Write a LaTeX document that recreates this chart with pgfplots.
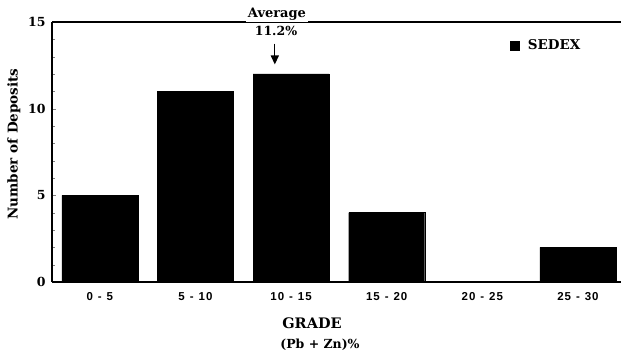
\documentclass[border=0pt]{standalone}
\usepackage{pgfplots}
\pgfplotsset{compat=1.18}
\usetikzlibrary{arrows.meta}
\usepackage{fontspec}
\setmainfont{DejaVu Serif}
\newfontfamily\tickfont[LetterSpace=8]{Liberation Sans}
\begin{document}
\begin{tikzpicture}
\useasboundingbox (-52pt,-73pt) rectangle (569pt,282pt);
\begin{axis}[
  scale only axis,
  width=569pt, height=260pt,
  at={(0,0)}, anchor=south west,
  xmin=-0.5, xmax=5.45,
  ymin=0, ymax=15,
  axis x line*=bottom,
  axis y line*=left,
  axis line style={line width=1.3pt, -},
  xtick={0,1,2,3,4,5},
  xticklabels={0\hspace{5pt}-\hspace{5pt}5, 5\hspace{5pt}-\hspace{5pt}10, 10\hspace{5pt}-\hspace{5pt}15, 15\hspace{5pt}-\hspace{5pt}20, 20\hspace{5pt}-\hspace{5pt}25, 25\hspace{5pt}-\hspace{5pt}30},
  x tick label style={font=\tickfont\bfseries\fontsize{11.5}{13}\selectfont, yshift=-3pt},
  major x tick style={draw=none},
  ytick={0,5,10,15},
  minor y tick num=4,
  tick align=inside,
  major tick length=4pt, minor tick length=3pt,
  y tick label style={font=\bfseries\fontsize{12.5}{14}\selectfont, xshift=-3pt},
  /pgf/number format/assume math mode=true,
  ybar, bar width=76pt,
  legend style={draw=none, fill=none, at={(rel axis cs:0.80,0.91)}, anchor=west, font=\bfseries\fontsize{13.5}{15}\selectfont, legend cell align=left},
  legend image code/.code={\fill[black] (0pt,-4.5pt) rectangle (9pt,4.5pt);},
  clip=false,
]
\addplot[fill=black, draw=black] coordinates {(0,5) (1,11) (2,12) (3,4) (4,0) (5,2)};
\addlegendentry{\hspace{6pt}SEDEX}
\draw[line width=1.4pt] (rel axis cs:0,1) -- (rel axis cs:1,1);
\draw[-{Triangle[length=9pt,width=8pt]}, line width=1.3pt] (axis cs:1.83,13.75) -- (axis cs:1.83,12.55);
\end{axis}
\node[fill=white, inner sep=1.5pt, font=\bfseries\fontsize{13}{14}\selectfont] at (225pt,268pt) {Average};
\node[font=\bfseries\fontsize{12.5}{14}\selectfont] at (224pt,251pt) {11.2\%};
\node[rotate=90, font=\bfseries\fontsize{13.5}{15}\selectfont] at (-38pt,138pt) {Number of Deposits};
\node[font=\bfseries\fontsize{14.5}{16}\selectfont] at (260pt,-41pt) {GRADE};
\node[font=\bfseries\fontsize{12.5}{14}\selectfont] at (268pt,-63pt) {(Pb + Zn)\%};
\end{tikzpicture}
\end{document}
